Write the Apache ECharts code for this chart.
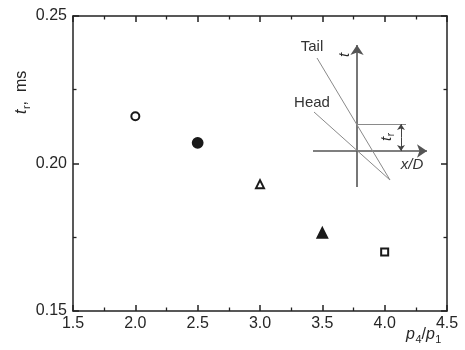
<!DOCTYPE html>
<html><head><meta charset="utf-8">
<script src="https://cdn.jsdelivr.net/npm/echarts@6/dist/echarts.min.js"></script>
<style>html,body{margin:0;padding:0;background:#fff}#c{width:465px;height:350px}</style>
</head><body><div id="c"></div>
<script>
// data
const pressureRatio = [2.0, 2.5, 3.0, 3.5, 4.0];
const riseTime = [0.216, 0.207, 0.193, 0.1765, 0.170];
const markerSymbols = ['emptyCircle', 'circle', 'emptyTriangle', 'triangle', 'emptyRect'];
const markerSizes = [8, 10, 8, 10, 7];
const xTicks = [1.5, 4.5, 0.5];
const yTicks = [0.15, 0.25, 0.05];
// inset schematic (arbitrary schematic units)
const insetAxes = [[[0, -3.6], [0, 10.6]], [[-4.4, 0], [7.0, 0]]];
const insetTail = [[-4.0, 9.3], [3.3, -2.9]];
const insetHead = [[-4.3, 3.9], [3.3, -2.9]];
const insetTr = [[0, 2.7], [4.9, 2.7]];
const insetTrArrow = [[4.4, 1.35], [4.4, 2.7]];
const insetTrArrow2 = [[4.4, 1.35], [4.4, 0]];

const chart = echarts.init(document.getElementById('c'));
const txt = '#262626';
const font = 'Liberation Sans, Arial, sans-serif';
const axisCommon = {
  type: 'value', scale: false,
  axisLine: {show: true, lineStyle: {color: '#222', width: 1.5}},
  axisTick: {show: true, inside: true, length: 6, lineStyle: {color: '#222', width: 1.5}},
  minorTick: {show: true, splitNumber: 2, length: 3.5, lineStyle: {color: '#222', width: 1.3}},
  splitLine: {show: false}
};
const series = pressureRatio.map((x, i) => ({
  type: 'scatter', xAxisIndex: 0, yAxisIndex: 0,
  data: [[x, riseTime[i]]],
  symbol: markerSymbols[i], symbolSize: markerSizes[i],
  itemStyle: {color: '#1a1a1a', borderColor: '#1a1a1a', borderWidth: 1.8, opacity: 1},
  silent: true
}));
function seg(data, color, width, arrow) {
  return {
    type: 'lines', coordinateSystem: 'cartesian2d', xAxisIndex: 2, yAxisIndex: 2,
    polyline: false, silent: true,
    symbol: arrow ? ['none', 'arrow'] : ['none', 'none'], symbolSize: arrow,
    lineStyle: {color: color, width: width, opacity: 1},
    data: data.map(s => ({coords: s}))
  };
}
series.push(seg(insetAxes, '#555', 1.6, 10));
series.push(seg([insetTail, insetHead], '#8a8a8a', 1, 0));
series.push(seg([insetTr], '#8a8a8a', 1, 0));
series.push(seg([insetTrArrow, insetTrArrow2], '#444', 1, 6));

function subLabel(x, y, rot, parts, size) {
  // parts: [text, italic, sub]
  const children = [];
  let cx = 0;
  const ctx = document.createElement('canvas').getContext('2d');
  parts.forEach(p => {
    const fs = p[2] ? size * 0.68 : size;
    ctx.font = (p[1] ? 'italic ' : '') + fs + 'px ' + font;
    children.push({type: 'text', x: cx, y: p[2] ? size * 0.3 : 0,
      style: {text: p[0], font: (p[1] ? 'italic ' : '') + fs + 'px ' + font, fill: txt,
        textVerticalAlign: 'middle', verticalAlign: 'middle'}});
    cx += ctx.measureText(p[0]).width + (p[1] && !p[2] ? 0.5 : 0);
  });
  return {type: 'group', x: x, y: y, rotation: rot, children: children, silent: true};
}

chart.setOption({
  animation: false,
  backgroundColor: '#fff',
  textStyle: {fontFamily: font},
  grid: [
    {left: 73, top: 16, width: 374, height: 295},
    {left: 313, top: 45, width: 114, height: 142}
  ],
  xAxis: [
    Object.assign({}, axisCommon, {gridIndex: 0, position: 'bottom', min: xTicks[0], max: xTicks[1], interval: xTicks[2],
      axisLabel: {show: true, color: txt, fontSize: 16, margin: 5, fontFamily: font, formatter: v => v.toFixed(1)}}),
    Object.assign({}, axisCommon, {gridIndex: 0, position: 'top', min: xTicks[0], max: xTicks[1], interval: xTicks[2],
      axisLabel: {show: false}}),
    {type: 'value', gridIndex: 1, min: -4.4, max: 7.0, show: false},
  ],
  yAxis: [
    Object.assign({}, axisCommon, {gridIndex: 0, position: 'left', min: yTicks[0], max: yTicks[1], interval: yTicks[2],
      axisLabel: {show: true, color: txt, fontSize: 16, margin: 6, fontFamily: font, formatter: v => v.toFixed(2)}}),
    Object.assign({}, axisCommon, {gridIndex: 0, position: 'right', min: yTicks[0], max: yTicks[1], interval: yTicks[2],
      axisLabel: {show: false}}),
    {type: 'value', gridIndex: 1, min: -3.6, max: 10.6, show: false},
  ],
  series: series,
  graphic: [
    {type: 'text', x: 312, y: 47, silent: true, style: {text: 'Tail', font: '15px ' + font, fill: '#333', textAlign: 'center', textVerticalAlign: 'middle', align: 'center', verticalAlign: 'middle'}},
    {type: 'text', x: 312, y: 103, silent: true, style: {text: 'Head', font: '15px ' + font, fill: '#333', textAlign: 'center', textVerticalAlign: 'middle', align: 'center', verticalAlign: 'middle'}},
    {type: 'text', x: 412, y: 165, silent: true, style: {text: 'x/D', font: 'italic 15px ' + font, fill: '#333', textAlign: 'center', textVerticalAlign: 'middle', align: 'center', verticalAlign: 'middle'}},
    subLabel(345, 57, Math.PI / 2, [['t', true, false]], 15),
    subLabel(387, 141, Math.PI / 2, [['t', true, false], ['r', false, true]], 15),
    subLabel(22, 114, Math.PI / 2, [['t', true, false], ['r', false, true], [',  ms', false, false]], 16),
    subLabel(406, 335, 0, [['p', true, false], ['4', false, true], ['/', false, false], ['p', true, false], ['1', false, true]], 16)
  ]
});
</script></body></html>
